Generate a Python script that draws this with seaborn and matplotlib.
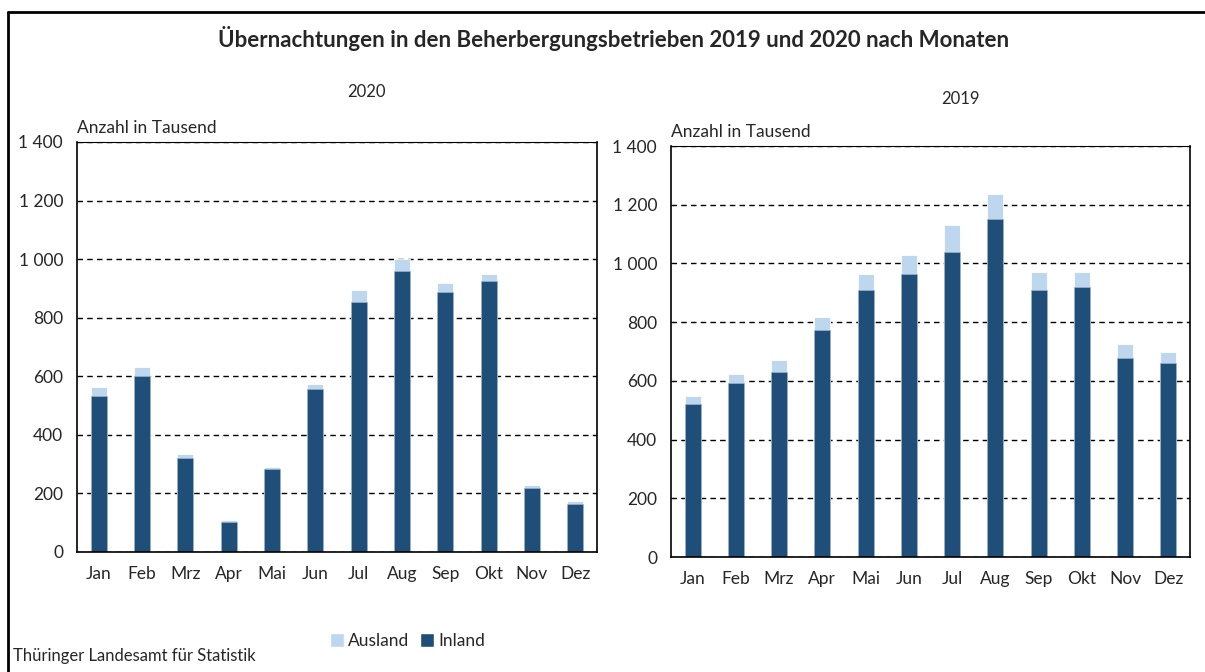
import matplotlib
matplotlib.use("Agg")
import matplotlib.pyplot as plt
import numpy as np
import seaborn as sns
from matplotlib.patches import Patch
from matplotlib.ticker import FixedLocator, FuncFormatter


MONTHS = ["Jan", "Feb", "Mrz", "Apr", "Mai", "Jun", "Jul", "Aug", "Sep", "Okt", "Nov", "Dez"]

# Übernachtungen in Tausend
INLAND_2020 = [533, 601, 320, 103, 285, 557, 855, 961, 889, 924, 220, 165]
AUSLAND_2020 = [30, 31, 16, 6, 4, 16, 40, 39, 31, 26, 10, 9]
INLAND_2019 = [520, 593, 631, 773, 909, 964, 1040, 1151, 909, 919, 677, 661]
AUSLAND_2019 = [30, 29, 41, 46, 55, 66, 92, 86, 61, 51, 47, 36]

Y_TICKS = [0, 200, 400, 600, 800, 1000, 1200, 1400]

INLAND_COLOR = "#1f4e79"
AUSLAND_COLOR = "#bdd7ee"
FONT = ["Lato", "DejaVu Sans"]


def thousands(v, _):
    return f"{int(v):,}".replace(",", " ") if v >= 1000 else f"{int(v)}"


def draw_panel(ax, inland, ausland, year, year_y):
    total = np.array(inland) + np.array(ausland)
    sns.barplot(x=MONTHS, y=total, color=AUSLAND_COLOR, width=0.37, ax=ax,
                saturation=1, edgecolor="white", linewidth=0.6)
    sns.barplot(x=MONTHS, y=inland, color=INLAND_COLOR, width=0.37, ax=ax,
                saturation=1, edgecolor="#9fb3c8", linewidth=0.5)
    ax.set_xlim(-0.5, 11.5)
    ax.set_ylim(0, 1400)
    ax.set_yticks(Y_TICKS)
    ax.yaxis.set_major_formatter(FuncFormatter(thousands))
    ax.yaxis.grid(True, linestyle=(0, (4, 3)), color="black", linewidth=1.0)
    ax.set_axisbelow(True)
    ax.set_xlabel("")
    ax.set_ylabel("")

    # month labels centred, tick marks at category boundaries
    ax.xaxis.set_major_locator(FixedLocator(np.arange(-0.5, 12, 1)))
    ax.xaxis.set_major_formatter(plt.NullFormatter())
    ax.xaxis.set_minor_locator(FixedLocator(np.arange(12)))
    ax.set_xticklabels(MONTHS, minor=True)
    ax.tick_params(axis="x", which="major", direction="out", length=6, width=1.2, color="black")
    ax.tick_params(axis="x", which="minor", length=0, pad=10, labelsize=12.5)
    ax.tick_params(axis="y", direction="out", length=6, width=1.0, color="black",
                   labelsize=12.5, pad=4)
    for lab in ax.get_xticklabels(minor=True) + ax.get_yticklabels():
        lab.set_family(FONT)

    for name, sp in ax.spines.items():
        sp.set_visible(True)
        sp.set_color("black")
        sp.set_linewidth(1.2)
    ax.spines["top"].set_linewidth(0.8)

    ax.text(0.0, 1.015, "Anzahl in Tausend", transform=ax.transAxes, ha="left",
            va="bottom", fontsize=12.5, family=FONT)
    ax.text(0.557, year_y, year, transform=ax.transAxes, ha="center", va="center",
            fontsize=12, family=FONT)


def main():
    sns.set_theme(style="white")
    plt.rcParams["font.family"] = FONT

    fig = plt.figure(figsize=(12.05, 6.72), dpi=100)
    ax_left = fig.add_axes([0.0639, 0.1786, 0.4315, 0.6101])
    ax_right = fig.add_axes([0.5568, 0.1711, 0.4308, 0.6116])

    draw_panel(ax_left, INLAND_2020, AUSLAND_2020, "2020", 1.122)
    draw_panel(ax_right, INLAND_2019, AUSLAND_2019, "2019", 1.114)

    fig.text(0.509, 0.943, "Übernachtungen in den Beherbergungsbetrieben 2019 und 2020 nach Monaten",
             ha="center", va="center", fontsize=16, fontweight="bold", family=FONT)

    # outer frame (top and left only)
    fig.add_artist(plt.Line2D([0.0066, 1.0], [0.982, 0.982], transform=fig.transFigure,
                              color="black", linewidth=2))
    fig.add_artist(plt.Line2D([0.0066, 0.0066], [0.0, 0.982], transform=fig.transFigure,
                              color="black", linewidth=2))

    handles = [Patch(facecolor=AUSLAND_COLOR, label="Ausland"),
               Patch(facecolor=INLAND_COLOR, label="Inland")]
    fig.legend(handles=handles, loc="center", bbox_to_anchor=(0.338, 0.046), ncol=2,
               frameon=False, handlelength=0.8, handleheight=0.8,
               handletextpad=0.25, columnspacing=0.6, prop={"family": FONT, "size": 12.5})

    fig.text(0.011, 0.024, "Thüringer Landesamt für Statistik", ha="left", va="center",
             fontsize=12, family=FONT)

    fig.savefig("out.png", dpi=100)
    plt.close(fig)


if __name__ == "__main__":
    main()
